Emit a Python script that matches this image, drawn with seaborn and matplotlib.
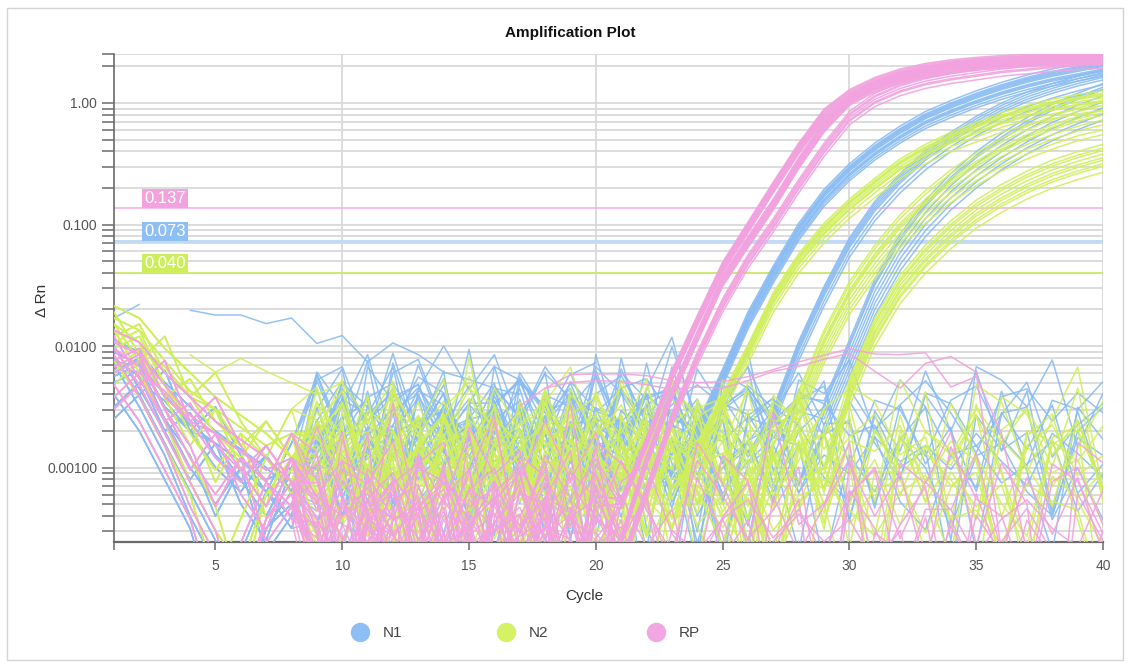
import matplotlib
matplotlib.use("Agg")
import matplotlib.pyplot as plt
from matplotlib.lines import Line2D
from matplotlib.patches import Rectangle
from matplotlib.ticker import FixedLocator, FixedFormatter, NullFormatter
import pandas as pd
import seaborn as sns

sns.set_theme(style="white")
plt.rcParams["font.family"] = ["Liberation Sans", "DejaVu Sans"]

# ---------------------------------------------------------------- data
targets = ["N1", "N2", "RP"]
line_colors = {"N1": "#8ABCF3", "N2": "#D0EF5C", "RP": "#F2A2DF"}
marker_colors = {"N1": "#8DBEF5", "N2": "#D4F263", "RP": "#F3A7E2"}
thresholds = {"RP": 0.137, "N1": 0.073, "N2": 0.040}
threshold_text = {"RP": "0.137", "N1": "0.073", "N2": "0.040"}

cycle_ticks = [1, 5, 10, 15, 20, 25, 30, 35, 40]
cycle_tick_labels = ["", "5", "10", "15", "20", "25", "30", "35", "40"]
drn_ticks = [0.001, 0.01, 0.1, 1.0]
drn_tick_labels = ["0.00100", "0.0100", "0.100", "1.00"]

# log10 ΔRn over cycles 1-8 (early baseline drift)
early_profiles = [
    [-1.85, -1.95, -2.2, -2.45, -2.6, -2.75, -2.9, -2.8],
    [-2.0, -1.9, -2.3, -2.5, -2.8, -3.0, -2.7, -3.0],
    [-1.8, -2.15, -2.5, -2.35, -2.7, -2.9, -3.2, -2.8],
    [-2.1, -2.0, -2.4, -2.7, -3.2, -2.8, -3.0, -3.3],
    [-1.95, -2.3, -2.7, -3.2, -3.6, -3.9, -3.3, -3.1],
    [-2.3, -2.1, -2.25, -2.5, -2.6, -2.9, -2.7, -3.0],
    [-1.9, -2.05, -2.5, -2.9, -2.6, -3.1, -3.4, -2.8],
    [-2.2, -2.5, -2.9, -3.3, -4.0, -3.5, -3.0, -3.2],
    [-1.75, -1.85, -2.1, -2.3, -2.5, -2.65, -2.8, -3.0],
    [-2.4, -2.2, -2.6, -3.0, -3.4, -4.1, -3.3, -3.0],
    [-1.9, -2.2, -2.0, -2.5, -2.3, -2.7, -3.0, -2.6],
    [-2.05, -1.95, -2.4, -2.8, -3.1, -2.8, -3.5, -3.2],
]

# log10 wiggle of the flat baseline over cycles 9-40
baseline_wiggle = [
    [0.3, -0.1, 0.2, -0.4, 0.1, -0.3, 0.25, -0.05, 0.35, -0.25, 0.0, 0.3, -0.5, 0.1, -0.15,
     0.2, -0.35, 0.3, 0.0, -0.6, 0.2, -0.1, 0.15, 0.4, -0.2, 0.05, 0.25, -0.45, 0.1, -0.1, 0.3, 0.0],
    [-0.1, 0.4, -0.6, 0.1, 0.3, -0.2, 0.0, -0.8, 0.2, 0.35, -0.3, 0.1, 0.2, -0.4, 0.3,
     -0.1, 0.15, -0.7, 0.25, 0.0, 0.3, -0.3, -0.1, 0.2, -0.5, 0.3, 0.1, 0.2, -0.9, 0.25, -0.2, 0.1],
    [-0.4, 0.2, 0.35, -0.2, -0.5, 0.2, 0.1, 0.4, -0.3, 0.0, 0.2, -0.9, 0.3, 0.15, -0.2,
     0.35, 0.0, -0.3, 0.4, 0.1, -0.4, 0.25, 0.3, -0.6, 0.1, 0.3, -0.2, 0.2, 0.35, -0.5, 0.2, 0.1],
    [0.2, -0.3, 0.1, 0.3, 0.0, -0.2, 0.4, -0.1, -0.6, 0.3, 0.1, 0.2, -0.2, 0.4, -0.3,
     0.0, 0.3, 0.1, -0.5, 0.35, -0.2, 0.2, -0.8, 0.1, 0.3, -0.1, 0.2, -0.3, 0.4, 0.0, -0.6, 0.2],
    [-0.2, 0.1, -0.9, 0.3, 0.2, 0.0, -0.3, 0.3, 0.1, -0.2, 0.45, -0.1, 0.0, 0.3, -0.6,
     0.2, 0.1, 0.35, -0.2, 0.2, 0.0, -1.0, 0.3, 0.2, 0.0, 0.35, -0.3, 0.1, 0.2, 0.3, -0.2, 0.4],
    [0.3, -0.7, 0.2, -0.1, 0.35, 0.1, -0.4, 0.2, 0.3, -0.1, -0.3, 0.35, 0.2, -0.2, 0.1,
     -1.0, 0.3, 0.0, 0.25, -0.3, 0.4, 0.1, 0.0, -0.4, 0.3, 0.2, -0.1, 0.35, -0.3, 0.1, 0.25, -0.2],
    [0.1, 0.3, -0.1, 0.2, -0.7, 0.3, -0.2, 0.1, 0.4, 0.0, -0.5, 0.2, 0.3, -0.1, 0.25,
     0.0, -0.4, 0.3, -0.1, 0.2, 0.35, -0.3, 0.1, -0.2, 0.3, -0.7, 0.2, 0.0, 0.3, -0.2, 0.1, 0.35],
    [-0.3, 0.0, 0.3, -0.5, 0.2, 0.4, -0.1, -0.3, 0.2, 0.1, 0.3, -0.4, 0.0, 0.2, 0.35,
     -0.2, 0.1, -0.5, 0.3, 0.4, -0.1, 0.2, -0.3, 0.3, 0.0, 0.1, -0.6, 0.3, 0.1, 0.2, -0.3, 0.0],
    [0.0, -1.0, 0.2, 0.1, -0.3, 0.3, 0.2, -0.1, 0.0, -0.5, 0.3, 0.2, -0.2, 0.1, 0.4,
     -0.3, 0.0, 0.2, -0.2, 0.3, -0.6, 0.1, 0.35, 0.0, -0.3, 0.2, 0.4, -0.1, 0.0, -0.4, 0.3, 0.1],
    [0.35, 0.1, -0.2, 0.0, 0.3, -0.8, 0.1, 0.3, -0.2, 0.2, 0.0, 0.4, -0.3, -0.6, 0.2,
     0.3, -0.1, 0.1, 0.35, -0.4, 0.0, 0.3, 0.2, -0.2, -0.5, 0.3, 0.0, 0.2, -0.1, 0.35, 0.0, -0.3],
]

# per-well baseline level shifts and wiggle sizes (log10), used in turn
well_level_shift = [0.0, -0.2, 0.15, -0.35, 0.1, -0.1, 0.25, -0.25, 0.05, -0.15, 0.2, -0.3, -0.05]
well_wiggle_size = [1.0, 0.7, 1.3, 0.9, 1.5, 0.8, 1.2, 1.1, 0.6]

# baseline level, wiggle size and early shift (log10) per target
baseline_level = {"N1": -2.75, "N2": -3.0, "RP": -3.5}
wiggle_size = {"N1": 1.1, "N2": 1.2, "RP": 1.3}
early_shift = {"N1": -0.2, "N2": 0.08, "RP": -0.12}
wiggle_seed = {"N1": 1, "N2": 4, "RP": 7}

# amplification curves: (first cycle, log10 ΔRn per cycle, per-well log10 offsets)
rp_curves = [
    (21, [-3.3, -2.8, -2.25, -1.8, -1.36, -1.03, -0.7, -0.38, -0.1, 0.06, 0.16, 0.23, 0.275,
          0.305, 0.325, 0.34, 0.35, 0.36, 0.365, 0.37],
     [0.0, 0.02, -0.02, 0.04, -0.03, 0.01, 0.03, -0.01, 0.05, -0.04]),
    (21, [-3.6, -2.95, -2.4, -1.93, -1.47, -1.15, -0.84, -0.5, -0.2, 0.02, 0.13, 0.2, 0.25,
          0.285, 0.31, 0.325, 0.34, 0.35, 0.355, 0.36],
     [0.0, 0.02, -0.02, 0.04, -0.04, 0.01, -0.01, 0.03, -0.03, 0.05, 0.015, -0.015]),
    (21, [-3.8, -3.2, -2.6, -2.1, -1.66, -1.3, -1.0, -0.68, -0.38, -0.12, 0.03, 0.12, 0.18,
          0.22, 0.25, 0.28, 0.3, 0.32, 0.335, 0.345],
     [0.0, -0.03, 0.03, -0.06, 0.02, -0.02, 0.05]),
]
n1_curves = [
    (24, [-2.7, -2.25, -1.78, -1.4, -1.05, -0.77, -0.56, -0.39, -0.25, -0.13, -0.04, 0.04,
          0.11, 0.17, 0.22, 0.26, 0.3],
     [0.0, 0.03, -0.03, 0.06, -0.06, 0.02, -0.02, -0.08, 0.04, 0.01, -0.04]),
    (27, [-2.55, -2.0, -1.55, -1.15, -0.85, -0.62, -0.43, -0.28, -0.15, -0.04, 0.05, 0.12,
          0.18, 0.23],
     [0.0, 0.04, -0.04, -0.08, 0.02, -0.02, -0.12]),
    (29, [-2.5, -2.0, -1.5, -1.13, -0.85, -0.63, -0.45, -0.3, -0.17, -0.06, 0.03, 0.11],
     [0.05, 0.0, -0.05, -0.1, -0.15, -0.2, 0.02, -0.25]),
]
n2_curves = [
    (24, [-2.85, -2.45, -2.05, -1.62, -1.3, -1.05, -0.85, -0.68, -0.52, -0.4, -0.3, -0.22,
          -0.14, -0.08, -0.03, 0.01, 0.04],
     [0.06, 0.03, 0.0, -0.03, -0.06, 0.02, -0.02, -0.1, 0.04]),
    (28, [-2.4, -1.9, -1.5, -1.2, -0.95, -0.75, -0.58, -0.44, -0.32, -0.22, -0.14, -0.07, -0.02],
     [0.0, -0.04, -0.08, -0.12, -0.16, 0.03, -0.2, -0.06, -0.24]),
    (30, [-2.4, -1.9, -1.55, -1.3, -1.1, -0.93, -0.8, -0.69, -0.6, -0.53, -0.47],
     [0.1, 0.05, 0.0, -0.05, -0.1, 0.02, -0.03, 0.13, 0.08]),
]
amplified = {"N1": n1_curves, "N2": n2_curves, "RP": rp_curves}
blank_wells = {"N1": 12, "N2": 14, "RP": 8}

# individual wells read point by point: (target, first cycle, ΔRn values)
single_wells = [
    ("N1", 1, [0.017, 0.022]),
    ("N1", 4, [0.0197, 0.018, 0.018, 0.0153, 0.017, 0.0105, 0.0122, 0.0074, 0.0106, 0.0085,
               0.0061, 0.0053, 0.0045, 0.0040]),
    ("N1", 19, [0.0058, 0.0073]),
    ("N2", 4, [0.0085, 0.0061, 0.0079, 0.0062, 0.005, 0.004, 0.005, 0.0025, 0.0015]),
    ("RP", 18, [0.0045, 0.0058, 0.0059, 0.0059, 0.0057, 0.0052, 0.005, 0.0051, 0.0056, 0.0064,
                0.0074, 0.0084, 0.0095, 0.0086, 0.0085, 0.0088, 0.0046, 0.0056, 0.0019, 0.0002]),
    ("RP", 17, [0.0032, 0.0045, 0.005, 0.0052, 0.0051, 0.0048, 0.0044, 0.0046, 0.0045, 0.0052,
                0.0062, 0.0068, 0.0078, 0.0087, 0.0062, 0.0045, 0.0072, 0.0082, 0.0061, 0.0002]),
]

# ---------------------------------------------------------------- long table
rows = []


def baseline_log(target, k):
    seed = wiggle_seed[target]
    early = early_profiles[(k + seed) % len(early_profiles)]
    wiggle = baseline_wiggle[(3 * k + seed) % len(baseline_wiggle)]
    turn = (5 * k + seed) % len(wiggle)
    wiggle = wiggle[turn:] + wiggle[:turn]
    lvl = baseline_level[target] + well_level_shift[(k + seed) % len(well_level_shift)]
    amp = wiggle_size[target] * well_wiggle_size[(2 * k + seed) % len(well_wiggle_size)]
    sh = early_shift[target]
    return [e + sh for e in early] + [lvl + amp * w for w in wiggle]


for target in targets:
    k = 0
    for start, shape, offsets in amplified[target]:
        for off in offsets:
            logs = baseline_log(target, k)
            for i, v in enumerate(shape):
                logs[start - 1 + i] = v + off
            for c, v in enumerate(logs, start=1):
                rows.append((target, f"{target}-{k}", c, 10 ** v))
            k += 1
    for _ in range(blank_wells[target]):
        logs = baseline_log(target, k)
        for c, v in enumerate(logs, start=1):
            rows.append((target, f"{target}-{k}", c, 10 ** v))
        k += 1

for j, (target, start, values) in enumerate(single_wells):
    for i, v in enumerate(values):
        rows.append((target, f"{target}-s{j}", start + i, v))

df = pd.DataFrame(rows, columns=["target", "well", "cycle", "drn"])

# ---------------------------------------------------------------- figure
W, H = 1132, 668
fig = plt.figure(figsize=(W / 100, H / 100), dpi=100)
x0, x1, y0, y1 = 114, 1103, 54, 542
ax = fig.add_axes([x0 / W, 1 - y1 / H, (x1 - x0) / W, (y1 - y0) / H])

grid_color = "#d9d9d9"
axis_color = "#6b6b6b"
y_top = 2.53

sns.lineplot(data=df, x="cycle", y="drn", hue="target", hue_order=targets, units="well",
             estimator=None, palette=line_colors, linewidth=1.1, alpha=0.9,
             legend=False, ax=ax, zorder=3)
ax.set_yscale("log")
ax.set_xlim(1, 40)
ax.set_ylim(2.44e-4, y_top)

ax.yaxis.set_major_locator(FixedLocator(drn_ticks))
ax.yaxis.set_major_formatter(FixedFormatter(drn_tick_labels))
minor = [m * 10.0 ** e for e in range(-4, 1) for m in range(2, 10)] + [y_top]
ax.yaxis.set_minor_locator(FixedLocator(minor))
ax.yaxis.set_minor_formatter(NullFormatter())
ax.xaxis.set_major_locator(FixedLocator(cycle_ticks))
ax.xaxis.set_major_formatter(FixedFormatter(cycle_tick_labels))

ax.grid(True, which="both", axis="y", color=grid_color, linewidth=1.3, zorder=0)
for c in [10, 20, 30, 40]:
    ax.axvline(c, color=grid_color, linewidth=1.3, zorder=0.5)
ax.set_axisbelow(True)

for side in ["top", "right"]:
    ax.spines[side].set_visible(False)
ax.spines["left"].set_color(axis_color)
ax.spines["left"].set_linewidth(1.2)
ax.spines["bottom"].set_color(axis_color)
ax.spines["bottom"].set_linewidth(1.6)
ax.tick_params(axis="y", which="both", left=True, length=9, width=1.1, color=axis_color,
               labelsize=10, labelcolor="#555555", pad=3)
ax.tick_params(axis="x", which="major", bottom=True, length=6, width=1.1, color=axis_color,
               labelsize=10, labelcolor="#555555", pad=6)
ax.set_xlabel("")
ax.set_ylabel("")

# threshold lines with their value tags
thr_line = {"RP": ("#F5B3E6", 1.2), "N1": ("#C3DAF5", 2.2), "N2": ("#CDEB6A", 1.3)}
tag_color = {"RP": "#F2A2DF", "N1": "#8DBEF5", "N2": "#CDEE5C"}
for t in ["RP", "N1", "N2"]:
    col, lw = thr_line[t]
    ax.axhline(thresholds[t], color=col, linewidth=lw, zorder=2)
    ax.text(2.2, thresholds[t] * 1.04, threshold_text[t], color="white", fontsize=12,
            ha="left", va="bottom", zorder=6,
            bbox=dict(boxstyle="square,pad=0.12", fc=tag_color[t], ec="none"))

# titles and axis labels
fig.text(570 / W, 1 - 33 / H, "Amplification Plot", ha="center", va="center",
         fontsize=11, fontweight="bold", color="#111111")
fig.text(584 / W, 1 - 596 / H, "Cycle", ha="center", va="center", fontsize=11,
         color="#333333")
fig.text(42 / W, 1 - 300 / H, "Δ Rn", ha="center", va="center", rotation=90,
         fontsize=11, color="#333333")

# legend
for t, xc in zip(targets, [360, 506, 656]):
    fig.add_artist(Line2D([xc / W], [1 - 632 / H], marker="o", markersize=13, linestyle="none",
                          color=marker_colors[t], transform=fig.transFigure))
    fig.text((xc + 23) / W, 1 - 633 / H, t, ha="left", va="center", fontsize=11,
             color="#444444")

# outer frame
fig.add_artist(Rectangle((7 / W, 8 / H), (1123 - 7) / W, (660 - 8) / H, transform=fig.transFigure,
                         fill=False, edgecolor="#d4d4d4", linewidth=1.0))

fig.savefig("out.png", dpi=100)
